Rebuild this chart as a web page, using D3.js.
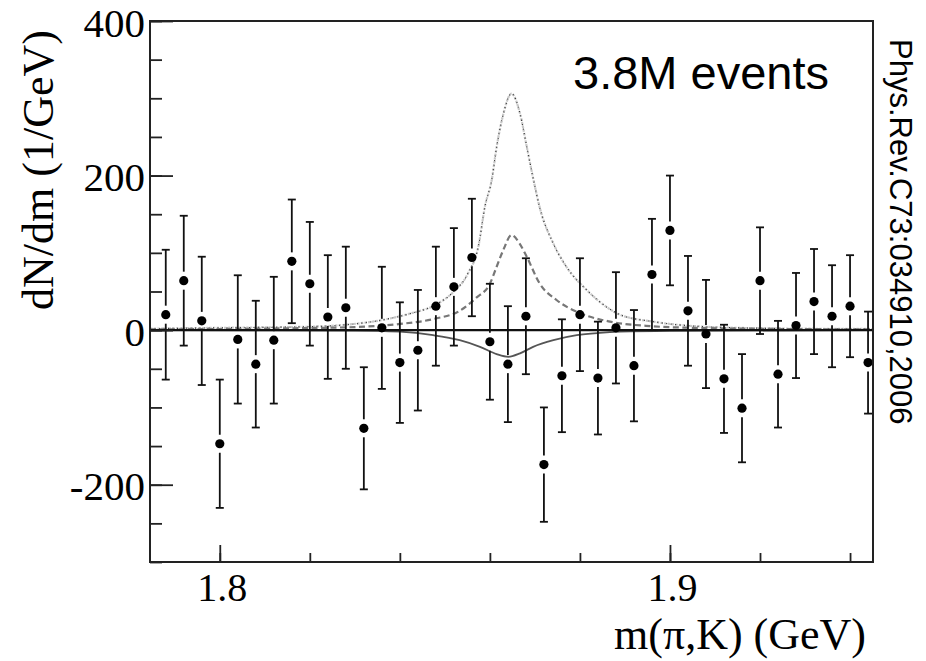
<!DOCTYPE html>
<html>
<head>
<meta charset="utf-8">
<script src="https://cdn.jsdelivr.net/npm/d3@7"></script>
<style>
  html, body { margin: 0; padding: 0; background: #fff; }
  #chart { width: 926px; height: 661px; }
</style>
</head>
<body>
<div id="chart"></div>
<script>
// Mass bins (GeV), measured yield and error per bin
const massBins = [1.788, 1.792, 1.796, 1.800, 1.804, 1.808, 1.812, 1.816, 1.820, 1.824,
  1.828, 1.832, 1.836, 1.840, 1.844, 1.848, 1.852, 1.856, 1.860, 1.864,
  1.868, 1.872, 1.876, 1.880, 1.884, 1.888, 1.892, 1.896, 1.900, 1.904,
  1.908, 1.912, 1.916, 1.920, 1.924, 1.928, 1.932, 1.936, 1.940, 1.944];
const yields = [20, 64, 12, -147, -12, -44, -13, 89, 60, 17,
  29, -127, 3, -42, -26, 31, 56, 94, -15, -44,
  18, -174, -59, 20, -62, 3, -46, 72, 129, 25,
  -5, -63, -101, 64, -57, 6, 37, 18, 31, -42];
const errors = [84, 84, 83, 83, 83, 82, 82, 80, 80, 80,
  79, 79, 79, 78, 78, 77, 76, 76, 75, 75,
  75, 74, 73, 73, 73, 72, 72, 72, 71, 71,
  70, 70, 70, 69, 69, 68, 68, 66, 66, 66];

// Curves: [mass, dN/dm]
const dottedCurve = [[1.7845, 2], [1.800, 3], [1.820, 4.5], [1.828, 7], [1.836, 13], [1.842, 21],
  [1.848, 33], [1.852, 50], [1.855, 72], [1.8575, 110], [1.8589, 160], [1.8604, 194],
  [1.8615, 237], [1.8630, 280], [1.8648, 306], [1.8667, 280], [1.8682, 237], [1.8697, 194],
  [1.8711, 158], [1.8741, 112], [1.8770, 82], [1.8815, 52], [1.8859, 30], [1.8889, 20],
  [1.8963, 11], [1.906, 5], [1.920, 2.5], [1.9451, 1.5]];
const dashedCurve = [[1.7845, 1], [1.810, 2], [1.830, 4], [1.840, 8], [1.848, 15], [1.853, 24],
  [1.857, 42], [1.860, 60], [1.8615, 82], [1.8630, 104], [1.8648, 123], [1.8666, 112],
  [1.8681, 96], [1.8711, 60], [1.8748, 39], [1.880, 22], [1.8867, 11], [1.8962, 5],
  [1.905, 3], [1.925, 1.5], [1.9451, 1]];
const solidCurve = [[1.7845, 0], [1.830, -0.5], [1.840, -2], [1.8474, -6.5], [1.8533, -13],
  [1.8578, -21.6], [1.8615, -31], [1.8641, -34.5], [1.8667, -30], [1.8696, -21.6],
  [1.8741, -13], [1.8793, -6.5], [1.8844, -3.5], [1.8889, -2], [1.900, -0.8], [1.9451, 0]];

// Axis ticks
const xMajorTicks = [1.8, 1.9];
const xMinorTicks = [1.80, 1.82, 1.84, 1.86, 1.88, 1.90, 1.92, 1.94];
const yMajorTicks = [-200, 0, 200, 400];
const yMinorTicks = [-300, -250, -200, -150, -100, -50, 0, 50, 100, 150, 200, 250, 300, 350, 400];

(function(){
  const width = 926, height = 661;
  const box = {left: 150, right: 873, top: 21, bottom: 562};
  const serif = '"Liberation Serif", "Times New Roman", serif';
  const sans = '"Liberation Sans", Arial, sans-serif';

  const svg = d3.select('#chart').append('svg')
    .attr('width', width).attr('height', height);

  const x = d3.scaleLinear().domain([1.7845, 1.9451]).range([box.left, box.right]);
  const y = d3.scaleLinear().domain([-300, 400]).range([box.bottom, box.top]);

  // Model curves
  const line = d3.line().x(d => x(d[0])).y(d => y(d[1])).curve(d3.curveMonotoneX);
  const curves = svg.append('g').attr('fill', 'none');
  curves.append('path').datum(dottedCurve).attr('d', line)
    .attr('stroke', '#c8c8c8').attr('stroke-width', 2.2).attr('stroke-dasharray', '2.5,1.2');
  curves.append('path').datum(dottedCurve).attr('d', line)
    .attr('stroke', '#333').attr('stroke-width', 1.2).attr('stroke-dasharray', '1,3.5');
  curves.append('path').datum(dashedCurve).attr('d', line)
    .attr('stroke', '#777').attr('stroke-width', 2.2).attr('stroke-dasharray', '6,3.5');
  curves.append('path').datum(solidCurve).attr('d', line)
    .attr('stroke', '#555').attr('stroke-width', 1.8);

  // Zero line
  svg.append('line')
    .attr('x1', x.range()[0]).attr('x2', x.range()[1])
    .attr('y1', y(0)).attr('y2', y(0))
    .attr('stroke', '#111').attr('stroke-width', 2.2);

  // Error bars with a gap around each marker, then the markers
  const points = massBins.map((m, i) => ({m, v: yields[i], e: errors[i]}));
  const gap = 9, cap = 4;
  const bars = svg.append('g').attr('stroke', '#111').attr('stroke-width', 1.8);
  points.forEach(d => {
    const cx = x(d.m), cy = y(d.v), top = y(d.v + d.e), bot = y(d.v - d.e);
    bars.append('line').attr('x1', cx).attr('x2', cx).attr('y1', top).attr('y2', cy - gap);
    bars.append('line').attr('x1', cx).attr('x2', cx).attr('y1', cy + gap).attr('y2', bot);
    bars.append('line').attr('x1', cx - cap).attr('x2', cx + cap).attr('y1', top).attr('y2', top);
    bars.append('line').attr('x1', cx - cap).attr('x2', cx + cap).attr('y1', bot).attr('y2', bot);
  });
  svg.append('g').selectAll('circle').data(points).join('circle')
    .attr('cx', d => x(d.m)).attr('cy', d => y(d.v)).attr('r', 4.6).attr('fill', '#000');

  // Axes: minor ticks, then major ticks with labels
  const styleAxis = g => {
    g.select('.domain').remove();
    g.attr('font-family', serif);
    g.selectAll('.tick line').attr('stroke', '#222').attr('stroke-width', 1.8);
  };
  svg.append('g').attr('transform', `translate(${box.left},0)`)
    .call(d3.axisRight(y).tickValues(yMinorTicks).tickSize(12).tickFormat(''))
    .call(styleAxis);
  const yAxis = svg.append('g').attr('transform', `translate(${box.left},0)`)
    .call(d3.axisRight(y).tickValues(yMajorTicks).tickSize(23).tickFormat(d => String(d)))
    .call(styleAxis);
  yAxis.selectAll('.tick text')
    .style('font-family', serif).style('font-size', '41px').attr('fill', '#000')
    .attr('text-anchor', 'end').attr('x', -5).attr('dy', 15);

  svg.append('g').attr('transform', `translate(0,${box.bottom})`)
    .call(d3.axisTop(x).tickValues(xMinorTicks).tickSize(9).tickFormat(''))
    .call(styleAxis);
  const xAxis = svg.append('g').attr('transform', `translate(0,${box.bottom})`)
    .call(d3.axisTop(x).tickValues(xMajorTicks).tickSize(17).tickFormat(d3.format('.1f')))
    .call(styleAxis);
  xAxis.selectAll('.tick text')
    .style('font-family', serif).style('font-size', '40px').attr('fill', '#000')
    .attr('text-anchor', 'middle').attr('x', 2).attr('y', 39).attr('dy', 0);

  // Frame
  svg.append('rect')
    .attr('x', box.left).attr('y', box.top)
    .attr('width', box.right - box.left).attr('height', box.bottom - box.top)
    .attr('fill', 'none').attr('stroke', '#222').attr('stroke-width', 2);

  // Titles and annotations
  svg.append('text').style('font-family', serif).style('font-size', '44px')
    .attr('x', 866).attr('y', 649).attr('text-anchor', 'end')
    .text('m(\u03C0,K) (GeV)');
  svg.append('text').style('font-family', serif).style('font-size', '44px')
    .attr('transform', 'translate(53,170) rotate(-90)').attr('text-anchor', 'middle')
    .text('dN/dm (1/GeV)');
  svg.append('text').style('font-family', sans).style('font-size', '47px')
    .attr('x', 573).attr('y', 89).text('3.8M events');
  svg.append('text').style('font-family', sans).style('font-size', '31px')
    .attr('transform', 'translate(890,39) rotate(90)')
    .text('Phys.Rev.C73:034910,2006');
})();
</script>
</body>
</html>
